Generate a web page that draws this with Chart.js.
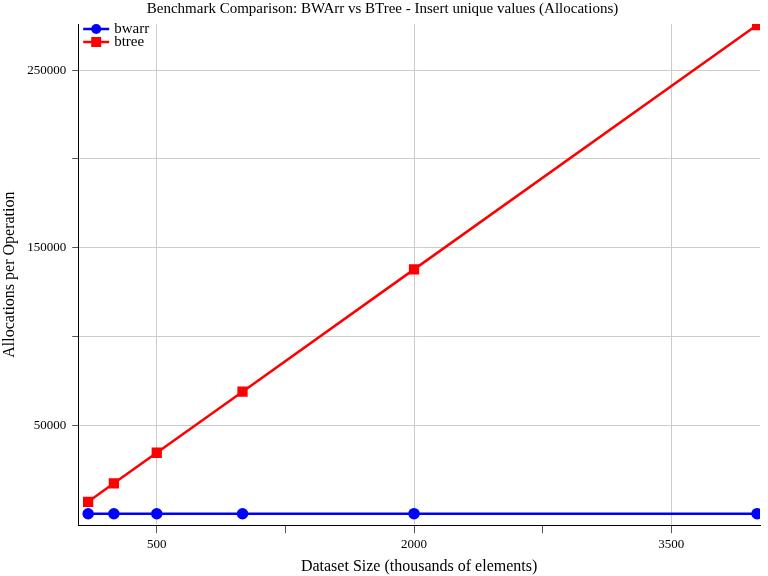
<!DOCTYPE html>
<html><head><meta charset="utf-8">
<script src="https://cdn.jsdelivr.net/npm/chart.js@4"></script>
<style>html,body{margin:0;background:#fff}#w{width:768px;height:576px}</style>
</head><body><div id="w"><canvas id="c"></canvas></div>
<script>
const sizes=[100,250,500,1000,2000,4000];
const bwarr=[150,160,170,180,190,200];
const btree=[6900,17300,34500,68900,137800,275400];
const xTicks=[500,1250,2000,2750,3500];
const xLabels=[500,2000,3500];
const yTicks=[50000,100000,150000,200000,250000];
const yLabels=[50000,150000,250000];
const F='"Liberation Serif", serif';
const legendPlugin={id:'lg',afterDraw(ch){const c=ch.ctx,a=ch.chartArea;c.save();c.font='15px '+F;c.textBaseline='middle';
ch.data.datasets.forEach((d,i)=>{const y=a.top+5+i*13,x=a.left+5;c.strokeStyle=d.borderColor;c.lineWidth=2.5;c.beginPath();c.moveTo(x,y);c.lineTo(x+26,y);c.stroke();
c.fillStyle=d.borderColor;if(d.pointStyle==='circle'){c.beginPath();c.arc(x+13,y,5,0,7);c.fill();}else c.fillRect(x+8,y-5,10,10);
c.fillStyle='#000';c.fillText(d.label,x+31,y);});c.restore();}};
new Chart(document.getElementById('c'),{type:'line',
data:{datasets:[
{label:'bwarr',data:sizes.map((x,i)=>({x,y:bwarr[i]})),borderColor:'#0000ff',backgroundColor:'#0000ff',pointStyle:'circle',pointRadius:4.5,borderWidth:2.5},
{label:'btree',data:sizes.map((x,i)=>({x,y:btree[i]})),borderColor:'#ff0000',backgroundColor:'#ff0000',pointStyle:'rect',pointRadius:5.5,borderWidth:2.5}]},
options:{animation:false,responsive:true,maintainAspectRatio:false,layout:{padding:{right:3,top:0,bottom:0}},
plugins:{legend:{display:false},title:{display:true,text:'Benchmark Comparison: BWArr vs BTree - Insert unique values (Allocations)',color:'#000',font:{family:F,size:15,weight:'normal'},padding:{top:0,bottom:6}}},
scales:{
x:{type:'linear',min:42,max:4017,afterBuildTicks:s=>{s.ticks=xTicks.map(v=>({value:v}))},
ticks:{color:'#000',font:{family:F,size:13},maxRotation:0,autoSkip:false,padding:4,callback:v=>xLabels.includes(v)?String(v):''},
grid:{color:c=>c.tick&&xLabels.includes(c.tick.value)?'#ccc':'rgba(0,0,0,0)',tickColor:'#555',tickLength:8},border:{color:'#000'},
title:{display:true,text:'Dataset Size (thousands of elements)',color:'#000',font:{family:F,size:16},padding:{top:0,bottom:0}}},
y:{min:-6300,max:276000,afterBuildTicks:s=>{s.ticks=yTicks.map(v=>({value:v}))},
ticks:{color:'#000',font:{family:F,size:13},autoSkip:false,padding:6,callback:v=>yLabels.includes(v)?String(v):''},
grid:{color:'#ccc',tickColor:'#555',tickLength:6},border:{color:'#000'},
title:{display:true,text:'Allocations per Operation',color:'#000',font:{family:F,size:16},padding:{top:0,bottom:2}}}}},
plugins:[legendPlugin]});
</script></body></html>
